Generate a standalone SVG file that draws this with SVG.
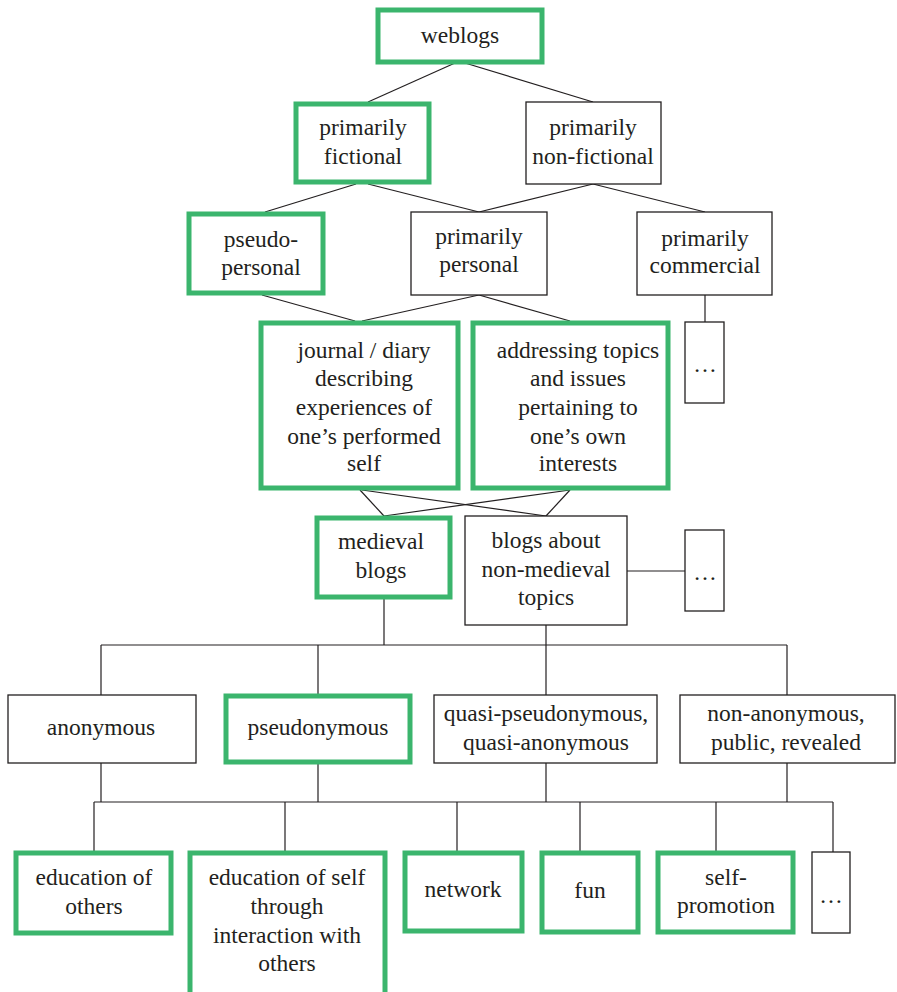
<svg xmlns="http://www.w3.org/2000/svg" width="897" height="992" viewBox="0 0 897 992">
<style>
.g{fill:#fff;stroke:#3bb56d;stroke-width:5}
.b{fill:#fff;stroke:#231f20;stroke-width:1.3}
text{font-family:"Liberation Serif","DejaVu Serif",serif;font-size:23.5px;fill:#231f20;text-anchor:middle}
.c line,.c polyline{stroke:#231f20;stroke-width:1.2;fill:none}
</style>
<rect width="897" height="992" fill="#fff"/>
<g class="c" id="connectors">
<line x1="455" y1="63" x2="368" y2="102"/>
<line x1="465" y1="63" x2="593" y2="102"/>
<line x1="356" y1="184" x2="265" y2="212"/>
<line x1="368" y1="184" x2="479" y2="212"/>
<line x1="593" y1="184" x2="479" y2="212"/>
<line x1="593" y1="184" x2="705" y2="212"/>
<line x1="705" y1="295" x2="705" y2="322"/>
<line x1="262" y1="295" x2="355" y2="321"/>
<line x1="479" y1="295" x2="362" y2="321"/>
<line x1="479" y1="295" x2="570" y2="321"/>
<line x1="360" y1="490" x2="384" y2="516"/>
<line x1="362" y1="490" x2="546" y2="516"/>
<line x1="570" y1="490" x2="384" y2="516"/>
<line x1="570" y1="490" x2="546" y2="516"/>
<line x1="627" y1="571" x2="685" y2="571"/>
<line x1="384" y1="599" x2="384" y2="645"/>
<line x1="546" y1="625" x2="546" y2="645"/>
<line x1="101" y1="645" x2="787" y2="645"/>
<line x1="101" y1="645" x2="101" y2="695"/>
<line x1="318" y1="645" x2="318" y2="695"/>
<line x1="546" y1="645" x2="546" y2="695"/>
<line x1="787" y1="645" x2="787" y2="695"/>
<line x1="101" y1="763" x2="101" y2="802"/>
<line x1="318" y1="763" x2="318" y2="802"/>
<line x1="546" y1="763" x2="546" y2="802"/>
<line x1="787" y1="763" x2="787" y2="802"/>
<line x1="94" y1="802" x2="833" y2="802"/>
<line x1="94" y1="802" x2="94" y2="851"/>
<line x1="285" y1="802" x2="285" y2="851"/>
<line x1="457" y1="802" x2="457" y2="851"/>
<line x1="580" y1="802" x2="580" y2="851"/>
<line x1="716" y1="802" x2="716" y2="851"/>
<line x1="833" y1="802" x2="833" y2="852"/>
</g>
<g id="weblogs"><rect class="g" x="378" y="10" width="164" height="52"/><text x="460" y="43">weblogs</text></g>
<g id="fictional"><rect class="g" x="296" y="104" width="133" height="78"/><text x="363" y="135">primarily</text><text x="363" y="164">fictional</text></g>
<g id="nonfictional"><rect class="b" x="526" y="102" width="135" height="82"/><text x="593" y="135">primarily</text><text x="593" y="164">non-fictional</text></g>
<g id="pseudopersonal"><rect class="g" x="189" y="214" width="134" height="79"/><text x="261" y="247">pseudo-</text><text x="261" y="275">personal</text></g>
<g id="personal"><rect class="b" x="411" y="212" width="136" height="83"/><text x="479" y="244">primarily</text><text x="479" y="272">personal</text></g>
<g id="commercial"><rect class="b" x="637" y="212" width="135" height="83"/><text x="705" y="246">primarily</text><text x="705" y="273">commercial</text></g>
<g id="more1"><rect class="b" x="685" y="322" width="39" height="81"/><text x="705" y="372">…</text></g>
<g id="journal"><rect class="g" x="261" y="323" width="197" height="165"/><text x="364" y="358">journal / diary</text><text x="364" y="386">describing</text><text x="364" y="415">experiences of</text><text x="364" y="444">one’s performed</text><text x="364" y="471">self</text></g>
<g id="addressing"><rect class="g" x="473" y="323" width="195" height="165"/><text x="578" y="358">addressing topics</text><text x="578" y="386">and issues</text><text x="578" y="415">pertaining to</text><text x="578" y="444">one’s own</text><text x="578" y="471">interests</text></g>
<g id="medieval"><rect class="g" x="317" y="518" width="133" height="79"/><text x="381" y="549">medieval</text><text x="381" y="578">blogs</text></g>
<g id="nonmedieval"><rect class="b" x="465" y="516" width="162" height="109"/><text x="546" y="548">blogs about</text><text x="546" y="577">non-medieval</text><text x="546" y="605">topics</text></g>
<g id="more2"><rect class="b" x="685" y="530" width="39" height="81"/><text x="705" y="580">…</text></g>
<g id="anonymous"><rect class="b" x="8" y="695" width="188" height="68"/><text x="101" y="735">anonymous</text></g>
<g id="pseudonymous"><rect class="g" x="226" y="696" width="184" height="66"/><text x="318" y="735">pseudonymous</text></g>
<g id="quasi"><rect class="b" x="434" y="695" width="223" height="68"/><text x="546" y="721">quasi-pseudonymous,</text><text x="546" y="750">quasi-anonymous</text></g>
<g id="nonanonymous"><rect class="b" x="680" y="695" width="215" height="68"/><text x="786" y="721">non-anonymous,</text><text x="786" y="750">public, revealed</text></g>
<g id="educothers"><rect class="g" x="16" y="853" width="155" height="80"/><text x="94" y="885">education of</text><text x="94" y="914">others</text></g>
<g id="educself"><rect class="g" x="190" y="853" width="195" height="142"/><text x="287" y="885">education of self</text><text x="287" y="914">through</text><text x="287" y="943">interaction with</text><text x="287" y="971">others</text></g>
<g id="network"><rect class="g" x="405" y="853" width="117" height="78"/><text x="463" y="897">network</text></g>
<g id="fun"><rect class="g" x="542" y="853" width="96" height="79"/><text x="590" y="898">fun</text></g>
<g id="selfpromotion"><rect class="g" x="658" y="853" width="135" height="79"/><text x="726" y="885">self-</text><text x="726" y="913">promotion</text></g>
<g id="more3"><rect class="b" x="812" y="852" width="38" height="81"/><text x="831" y="903">…</text></g>
</svg>
